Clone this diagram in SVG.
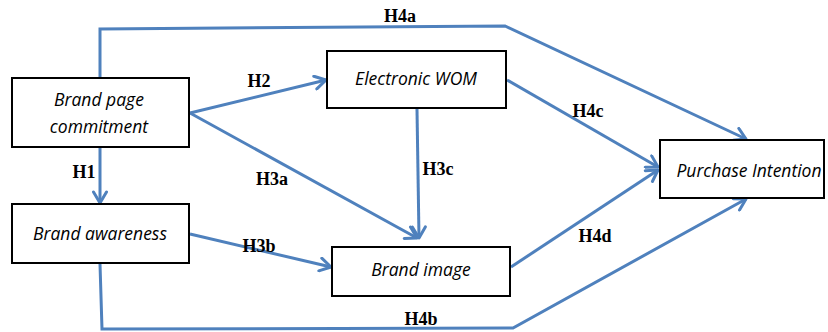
<svg xmlns="http://www.w3.org/2000/svg" width="828" height="332" viewBox="0 0 828 332">
<style>
.box{fill:#fff;stroke:#000;stroke-width:2}
.nt{font-family:"Open Sans","Liberation Sans",sans-serif;font-style:italic;font-size:17.5px;fill:#000;text-anchor:middle}
.c{fill:none;stroke:#4F81BD;stroke-width:3;stroke-linejoin:miter}
.lb{font-family:"Liberation Serif","Times New Roman",serif;font-weight:bold;font-size:18px;fill:#000;text-anchor:middle}
</style>
<defs>
<marker id="ah" markerUnits="userSpaceOnUse" markerWidth="16" markerHeight="16" refX="13" refY="8" orient="auto">
<path d="M2,1.5 L13,8 L2,14.5" fill="none" stroke="#4F81BD" stroke-width="3" stroke-linecap="round" stroke-linejoin="round"/>
</marker>
</defs>
<g id="connectors">
<polyline class="c" points="100,78 100,29 505,26 746,139" marker-end="url(#ah)"/>
<line class="c" x1="190" y1="113" x2="326" y2="80" marker-end="url(#ah)"/>
<line class="c" x1="190" y1="113" x2="417" y2="238" marker-end="url(#ah)"/>
<line class="c" x1="417" y1="109" x2="419" y2="238" marker-end="url(#ah)"/>
<line class="c" x1="100" y1="148" x2="100" y2="203" marker-end="url(#ah)"/>
<line class="c" x1="190" y1="234" x2="331" y2="267" marker-end="url(#ah)"/>
<polyline class="c" points="100,264 102,329 513,328 746,199" marker-end="url(#ah)"/>
<line class="c" x1="507" y1="80" x2="658" y2="167" marker-end="url(#ah)"/>
<line class="c" x1="511" y1="267" x2="658" y2="170" marker-end="url(#ah)"/>
<text class="lb" x="400" y="22">H4a</text>
<text class="lb" x="259" y="87">H2</text>
<text class="lb" x="84" y="178">H1</text>
<text class="lb" x="272" y="185">H3a</text>
<text class="lb" x="259" y="252">H3b</text>
<text class="lb" x="438" y="175">H3c</text>
<text class="lb" x="588" y="117">H4c</text>
<text class="lb" x="595" y="242">H4d</text>
<text class="lb" x="421" y="325">H4b</text>
</g>
<g id="brand-page-commitment">
<rect class="box" x="12" y="78" width="177" height="69"/>
<text class="nt" x="99" y="106">Brand page</text>
<text class="nt" x="99" y="133">commitment</text>
</g>
<g id="electronic-wom">
<rect class="box" x="327" y="51" width="179" height="57"/>
<text class="nt" x="416" y="85">Electronic WOM</text>
</g>
<g id="purchase-intention">
<rect class="box" x="660" y="140" width="164" height="58"/>
<text class="nt" x="749" y="177">Purchase Intention</text>
</g>
<g id="brand-awareness">
<rect class="box" x="12" y="204" width="177" height="59"/>
<text class="nt" x="100" y="240">Brand awareness</text>
</g>
<g id="brand-image">
<rect class="box" x="332" y="247" width="178" height="49"/>
<text class="nt" x="421" y="276">Brand image</text>
</g>
</svg>
